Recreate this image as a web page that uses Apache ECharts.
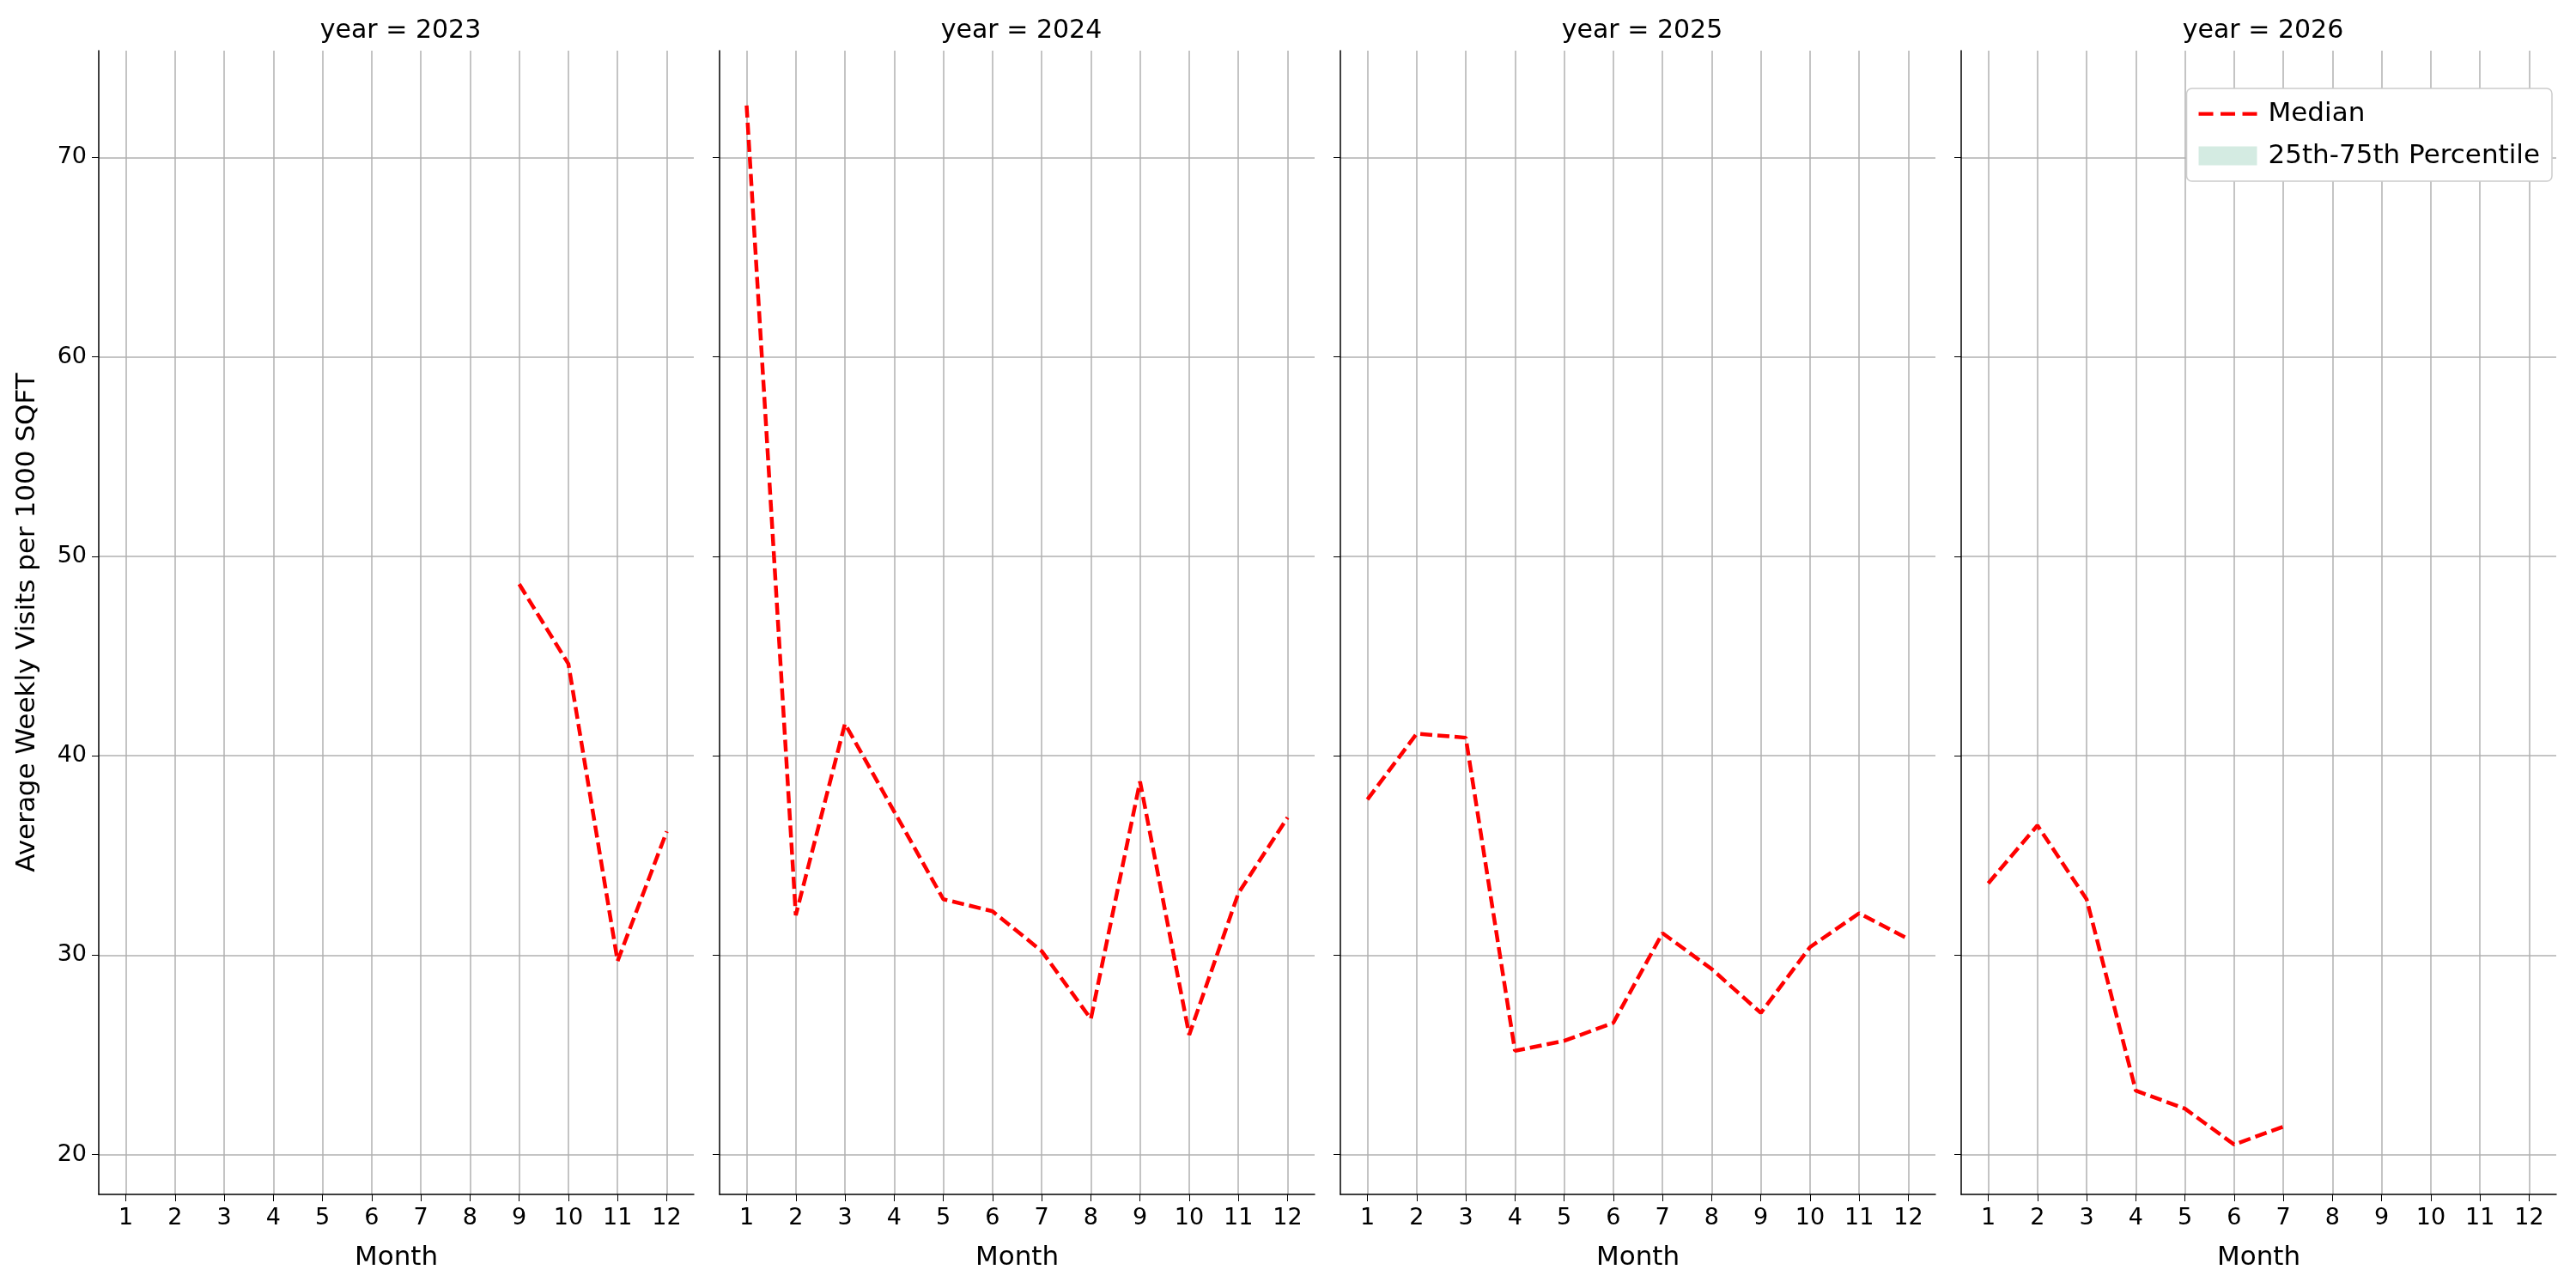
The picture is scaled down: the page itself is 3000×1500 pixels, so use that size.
<!DOCTYPE html>
<html><head><meta charset="utf-8">
<script src="https://cdn.jsdelivr.net/npm/echarts@6/dist/echarts.min.js"></script>
<style>html,body{margin:0;padding:0;background:#fff}#c{width:3000px;height:1500px}</style>
</head><body><div id="c"></div>
<script>
const months = [1,2,3,4,5,6,7,8,9,10,11,12];
const yTicks = [20,30,40,50,60,70];
const years = ['2023','2024','2025','2026'];
const med2023 = [null,null,null,null,null,null,null,null,48.6,44.6,29.7,36.2];
const med2024 = [72.6,32.0,41.6,37.2,32.8,32.2,30.2,26.8,38.7,26.0,33.1,36.9];
const med2025 = [37.8,41.1,40.9,25.2,25.7,26.6,31.1,29.3,27.1,30.4,32.1,30.8];
const med2026 = [33.6,36.5,32.8,23.2,22.3,20.5,21.4,null,null,null,null,null];
const medians = [med2023, med2024, med2025, med2026];

const lefts = [115, 838, 1561, 2284];
const W = 693, TOP = 59, H = 1332;
const font = 'DejaVu Sans';
const grid = [], xAxis = [], yAxis = [], series = [], title = [];
years.forEach((y, i) => {
  grid.push({left: lefts[i], top: TOP, width: W, height: H});
  xAxis.push({type:'value', gridIndex:i, min:0.45, max:12.55,
    name:'Month', nameLocation:'middle', nameGap:58,
    nameTextStyle:{fontFamily:font, fontSize:31, color:'#000'},
    axisLine:{show:true, lineStyle:{color:'#000', width:1.5}},
    axisTick:{show:true, length:8, lineStyle:{color:'#000'}, customValues: months},
    axisLabel:{fontFamily:font, fontSize:27, color:'#000', margin:14, customValues: months, showMinLabel:true, showMaxLabel:true},
    splitLine:{show:true, lineStyle:{color:'#b0b0b0', width:1.5}}});
  yAxis.push({type:'value', gridIndex:i, min:18, max:75.35,
    axisLabel:{show:i===0, fontFamily:font, fontSize:27, color:'#000', margin:14, customValues: yTicks},
    axisLine:{show:true, lineStyle:{color:'#000', width:1.5}},
    axisTick:{show:true, length:8, lineStyle:{color:'#000'}, customValues: yTicks},
    splitLine:{show:true, lineStyle:{color:'#b0b0b0', width:1.5}},
    name: i===0 ? 'Average Weekly Visits per 1000 SQFT' : '',
    nameLocation:'middle', nameGap:68, nameRotate:90,
    nameTextStyle:{fontFamily:font, fontSize:31, color:'#000'}});
  series.push({name:'Median', type:'line', xAxisIndex:i, yAxisIndex:i,
    data: medians[i].map((v, k) => [months[k], v]),
    symbol:'none', connectNulls:false, color:'#ff0000',
    lineStyle:{color:'#ff0000', width:4.5, type:[14,6]}});
  title.push({text:'year = ' + y, left: lefts[i] + W/2, top: 16, textAlign:'center',
    textStyle:{fontFamily:font, fontSize:30, fontWeight:'normal', color:'#000'}});
});
series.push({name:'25th-75th Percentile', type:'line', xAxisIndex:3, yAxisIndex:3, data:[],
  color:'#d4ebe2', areaStyle:{color:'#d4ebe2'}});
const chart = echarts.init(document.getElementById('c'));
chart.setOption({
  animation:false, backgroundColor:'#fff', title, grid, xAxis, yAxis, series,
  legend:{data:[{name:'Median', icon:'path://M0,0 L4,0 L4,1 L0,1 Z M6,0 L10,0 L10,1 L6,1 Z M12,0 L16,0 L16,1 L12,1 Z'}, {name:'25th-75th Percentile', icon:'rect'}],
    orient:'vertical', right:28, top:103, itemWidth:68, itemHeight:22, itemGap:18,
    backgroundColor:'#fff', borderColor:'#ccc', borderWidth:1.5, borderRadius:6, padding:[14,14,14,14],
    textStyle:{fontFamily:font, fontSize:31, color:'#000', padding:[0,0,0,8]}}
});
</script></body></html>
